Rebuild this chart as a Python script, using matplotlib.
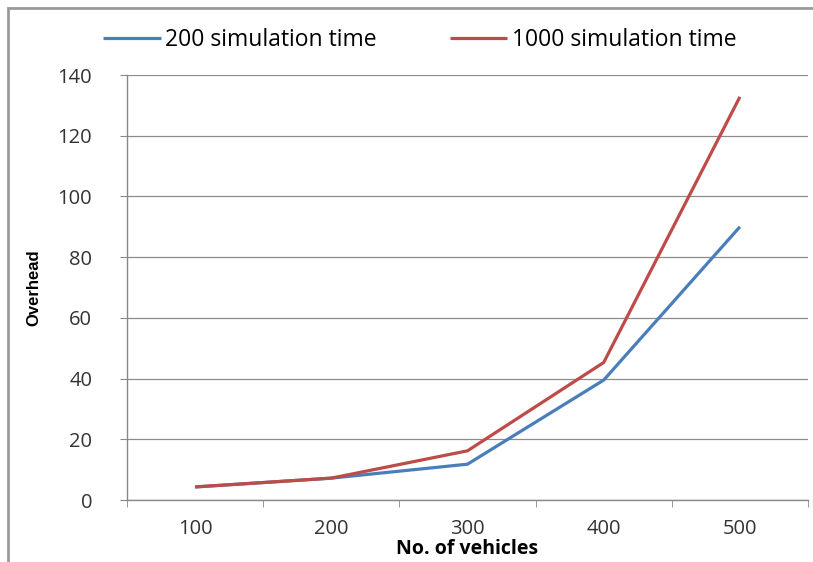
import matplotlib
matplotlib.use("Agg")
import matplotlib.pyplot as plt
from matplotlib.patches import Rectangle

categories = ["100", "200", "300", "400", "500"]
sim200 = [4.3, 7.2, 11.8, 39.5, 90.0]
sim1000 = [4.3, 7.2, 16.2, 45.3, 132.8]
series_names = ["200 simulation time", "1000 simulation time"]
yticks = [0, 20, 40, 60, 80, 100, 120, 140]

plt.rcParams['font.family'] = ['Open Sans', 'DejaVu Sans']

fig = plt.figure(figsize=(8.13, 5.62), dpi=100)
ax = fig.add_axes([127/813, 62/562, 681/813, 425/562])

x = list(range(len(categories)))
ax.plot(x, sim200, color="#4A7EBB", lw=2.3, label=series_names[0], solid_capstyle='butt')
ax.plot(x, sim1000, color="#BE4B48", lw=2.3, label=series_names[1], solid_capstyle='butt')

ax.set_xlim(-0.5, len(categories) - 0.5)
ax.set_ylim(0, 140)
ax.set_yticks(yticks)
ax.set_yticklabels([str(v) for v in yticks], fontsize=14.5, color="#333333")
ax.set_xticks(x)
ax.set_xticklabels(categories, fontsize=14.5, color="#333333")
ax.set_xticks([i - 0.5 for i in range(len(categories) + 1)], minor=True)
ax.tick_params(axis='x', which='major', length=0, pad=14)
ax.tick_params(axis='x', which='minor', length=5, color="#888888", direction='out')
ax.tick_params(axis='y', length=5, color="#888888", direction='out', pad=20)

ax.grid(axis='y', color="#8c8c8c", lw=0.9)
ax.set_axisbelow(True)
for s in ['top', 'right']:
    ax.spines[s].set_visible(False)
for s in ['left', 'bottom']:
    ax.spines[s].set_color("#888888")
    ax.spines[s].set_linewidth(1.0)

ax.set_xlabel("No. of vehicles", fontsize=14, fontweight='bold', labelpad=0)
ax.set_ylabel("Overhead", fontsize=12, fontweight='bold', labelpad=12,
              family=['Liberation Sans Narrow', 'Liberation Sans', 'DejaVu Sans'])

fig.legend(loc='center', bbox_to_anchor=(420/813, 1 - 40/562), ncol=2, frameon=False,
           fontsize=16.5, handlelength=2.5, handletextpad=0.2, columnspacing=3.2)

fig.patches.append(Rectangle((8/813, -0.01), 1.0, 1 - 8/562 + 0.01, transform=fig.transFigure,
                             fill=False, edgecolor="#9a9a9a", lw=2.0))

fig.savefig("out.png", dpi=100)
